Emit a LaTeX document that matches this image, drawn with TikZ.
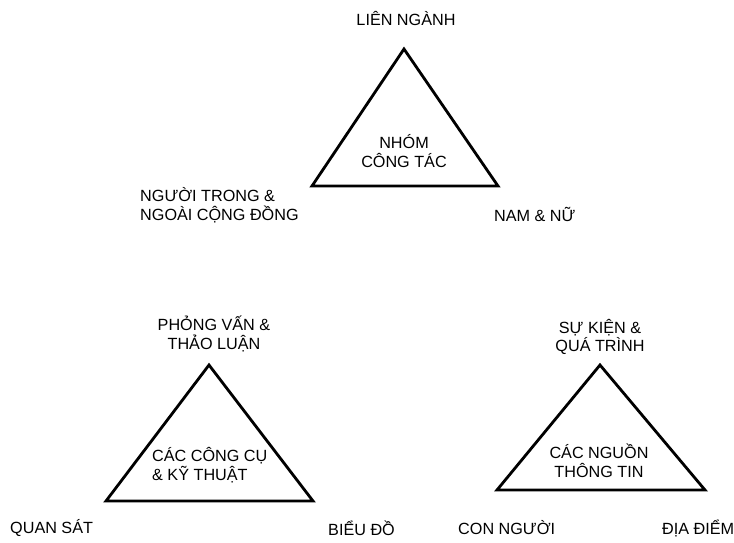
\documentclass[tikz,border=0pt]{standalone}
\usepackage{fontspec}
\setmainfont{Liberation Sans}
\usepackage{tikz}

\begin{document}
\begin{tikzpicture}[x=1pt, y=-1pt,
        tri/.style = {draw, line width=2.8pt},
        lab/.style = {inner sep=0pt, align=center, font=\fontsize{16.2}{18.5}\selectfont},
        labl/.style = {lab, align=left}]
                \useasboundingbox (0,0) rectangle (734,542);

                \coordinate (A1) at (404, 49);
                \coordinate (B1) at (312, 186);
                \coordinate (C1) at (498, 186);
                \coordinate (A2) at (209, 365);
                \coordinate (B2) at (106, 501);
                \coordinate (C2) at (313, 501);
                \coordinate (A3) at (600, 365);
                \coordinate (B3) at (497, 490);
                \coordinate (C3) at (705, 490);

                \draw [tri] (A1) -- (B1) -- (C1) -- cycle;
                \draw [tri] (A2) -- (B2) -- (C2) -- cycle;
                \draw [tri] (A3) -- (B3) -- (C3) -- cycle;

                \node[lab] at (406, 18) (lien) {LIÊN NGÀNH};
                \node[lab] at (404, 151) (nhom) {NHÓM\\CÔNG TÁC};
                \node[labl, anchor=west] at (140, 205) (nguoi) {NGƯỜI TRONG \&\\NGOÀI CỘNG ĐỒNG};
                \node[lab, anchor=west] at (494, 214) (nam) {NAM \& NỮ};

                \node[lab] at (214, 334) (phong) {PHỎNG VẤN \&\\THẢO LUẬN};
                \node[labl, anchor=west] at (152, 465) (congcu) {CÁC CÔNG CỤ\\\& KỸ THUẬT};
                \node[lab, anchor=west] at (10, 528) (quan) {QUAN SÁT};
                \node[lab, anchor=west] at (328, 528) (bieu) {BIỂU ĐỒ};

                \node[lab] at (600, 337) (suKien) {SỰ KIỆN \&\\QUÁ TRÌNH};
                \node[lab] at (599, 461) (nguon) {CÁC NGUỒN\\THÔNG TIN};
                \node[lab, anchor=west] at (458, 528) (con) {CON NGƯỜI};
                \node[lab, anchor=west] at (662, 528) (dia) {ĐỊA ĐIỂM};
\end{tikzpicture}
\end{document}
